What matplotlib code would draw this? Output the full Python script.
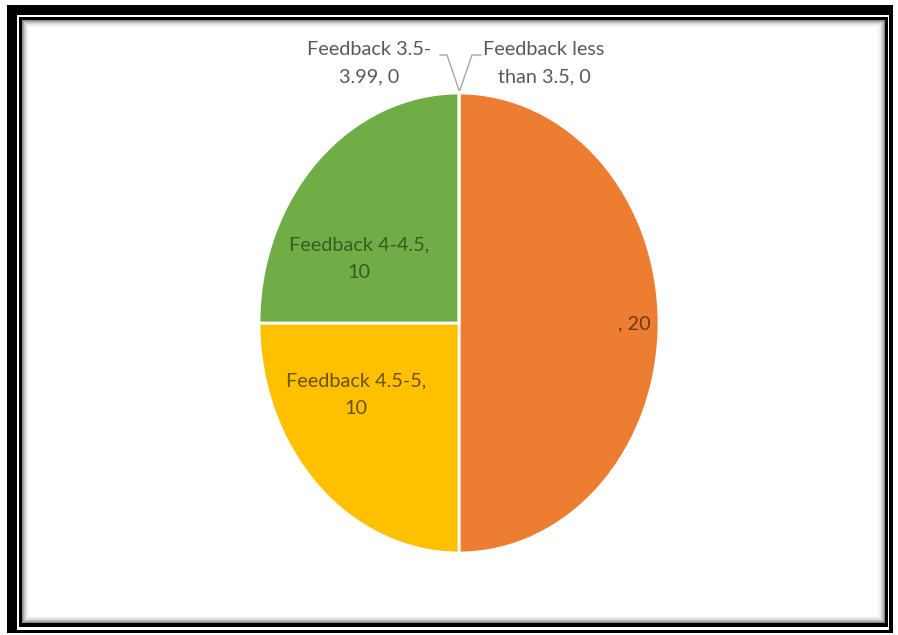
import matplotlib
matplotlib.use("Agg")
import matplotlib.pyplot as plt
from matplotlib.patches import Rectangle

# ---- data ----
categories = ["Feedback less than 3.5", "", "Feedback 4.5-5", "Feedback 4-4.5", "Feedback 3.5-3.99"]
values = [0, 20, 10, 10, 0]
colors = ["#4472C4", "#ED7D31", "#FFC000", "#70AD47", "#A5A5A5"]

W, H = 898, 635
fig = plt.figure(figsize=(W / 100, H / 100), dpi=100)
fig.patch.set_facecolor("white")

fam = ["Lato", "DejaVu Sans"]

def fr(x0, y0, x1, y1):
    return (x0 / W, 1 - y1 / H), (x1 - x0) / W, (y1 - y0) / H

# ---- frame ----
def rect(x0, y0, x1, y1, **kw):
    xy, w, h = fr(x0, y0, x1, y1)
    fig.patches.append(Rectangle(xy, w, h, transform=fig.transFigure, zorder=-5, **kw))

rect(7, 5, 893, 633, facecolor="black", edgecolor="none")
rect(17, 15, 889, 630, facecolor="white", edgecolor="none")
rect(19, 17, 888, 627, facecolor="black", edgecolor="none")
shades = ["#8a8a8a", "#a8a8a8", "#c2c2c2", "#d6d6d6", "#e6e6e6", "#f1f1f1", "#f8f8f8", "#fdfdfd", "#ffffff"]
for i, c in enumerate(shades):
    rect(22 + i, 20 + i, 885 - i, 623 - i, facecolor=c, edgecolor="none")

# ---- pie (elliptical) ----
cx, cy, rx, ry = 459, 323, 200, 230
ax = fig.add_axes([(cx - rx) / W, 1 - (cy + ry) / H, 2 * rx / W, 2 * ry / H])
ax.patch.set_visible(False)
wedges, _ = ax.pie(values, colors=colors, startangle=90, counterclock=False,
                   wedgeprops=dict(edgecolor="white", linewidth=2))
ax.set_aspect("auto")
ax.set_xlim(-1, 1)
ax.set_ylim(-1, 1)
ax.axis("off")

def px(x, y):
    return ((x - cx) / rx, (cy - y) / ry)

font = dict(family=fam, fontsize=14.3, ha="center", va="center", linespacing=1.75)

# data labels
ax.text(*px(369, 63), "Feedback 3.5-\n3.99, " + str(values[4]),
        color="#595959", clip_on=False, **font)
ax.text(*px(544, 63), "Feedback less\nthan 3.5, " + str(values[0]),
        color="#595959", clip_on=False, **font)
ax.text(*px(359, 259), f"{categories[3]},\n{values[3]}", color="#355E22", **font)
ax.text(*px(356, 395), f"{categories[2]},\n{values[2]}", color="#6B5200", **font)
ax.text(*px(634, 324), f"{categories[1]}, {values[1]}", color="#6E3A12", **font)

# leader lines
lc = "#A6A6A6"
for pts in ([(440, 55), (447, 55), (459, 90)], [(481, 55), (472, 55), (460, 90)]):
    xs, ys = zip(*[px(*p) for p in pts])
    ax.plot(xs, ys, color=lc, lw=1, clip_on=False)

fig.savefig("out.png", dpi=100, facecolor="white")
